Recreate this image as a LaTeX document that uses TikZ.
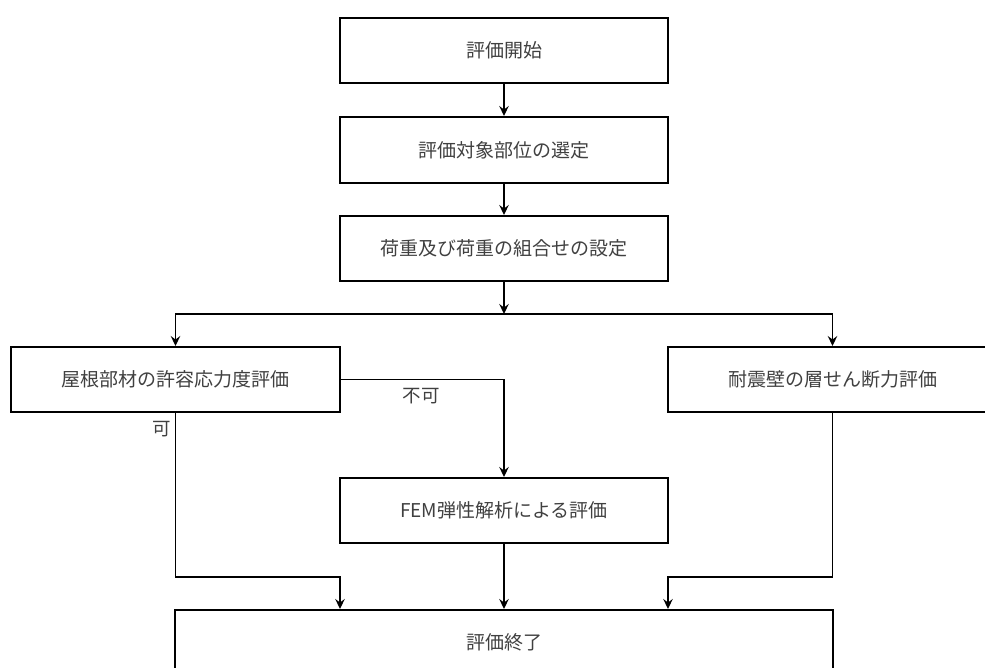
\documentclass[tikz,border=0pt]{standalone}
\usepackage{fontspec}
\setmainfont{Noto Sans CJK JP}
\usetikzlibrary{arrows.meta}
\begin{document}
\begin{tikzpicture}[x=1pt,y=-1pt,
  box/.style={draw=black,line width=2pt,rectangle,minimum height=65pt,inner sep=0pt,
    text=black!75,font=\fontsize{19}{23}\selectfont},
  conn/.style={draw=black,line width=1.3pt},
  arr/.style={conn,-{Stealth[length=10pt,width=9.5pt,inset=3.5pt]}},
  lbl/.style={text=black!75,font=\fontsize{18.5}{22}\selectfont,inner sep=0pt}]
\useasboundingbox (0,0) rectangle (985,668);
\node[box,minimum width=328pt] (b1) at (504,50.5) {評価開始};
\node[box,minimum width=328pt,minimum height=66pt] (b2) at (504,150) {評価対象部位の選定};
\node[box,minimum width=328pt] (b3) at (504,248.5) {荷重及び荷重の組合せの設定};
\node[box,minimum width=329pt] (b4) at (175.5,379.5) {屋根部材の許容応力度評価};
\node[box,minimum width=329pt] (b5) at (832.5,379.5) {耐震壁の層せん断力評価};
\node[box,minimum width=328pt] (b6) at (504,510.5) {FEM弾性解析による評価};
\node[box,minimum width=658pt] (b7) at (504,642.5) {評価終了};
\coordinate (j) at (504,314);
\coordinate (ml) at (340,577);
\coordinate (mr) at (668,577);
\draw[arr] (b1) -- (b2);
\draw[arr] (b2) -- (b3);
\draw[arr] (b3) -- (j);
\draw[arr] (j) -| (b4);
\draw[arr] (j) -| (b5);
\draw[arr] (b4.east) -| (b6.north);
\draw[arr] (b4.south) |- (ml) -- (ml |- b7.north);
\draw[arr] (b5.south) |- (mr) -- (mr |- b7.north);
\draw[arr] (b6) -- (b7);
\node[lbl] (nl) at (421,396) {不可};
\node[lbl] (ok) at (162,429) {可};
\end{tikzpicture}
\end{document}
